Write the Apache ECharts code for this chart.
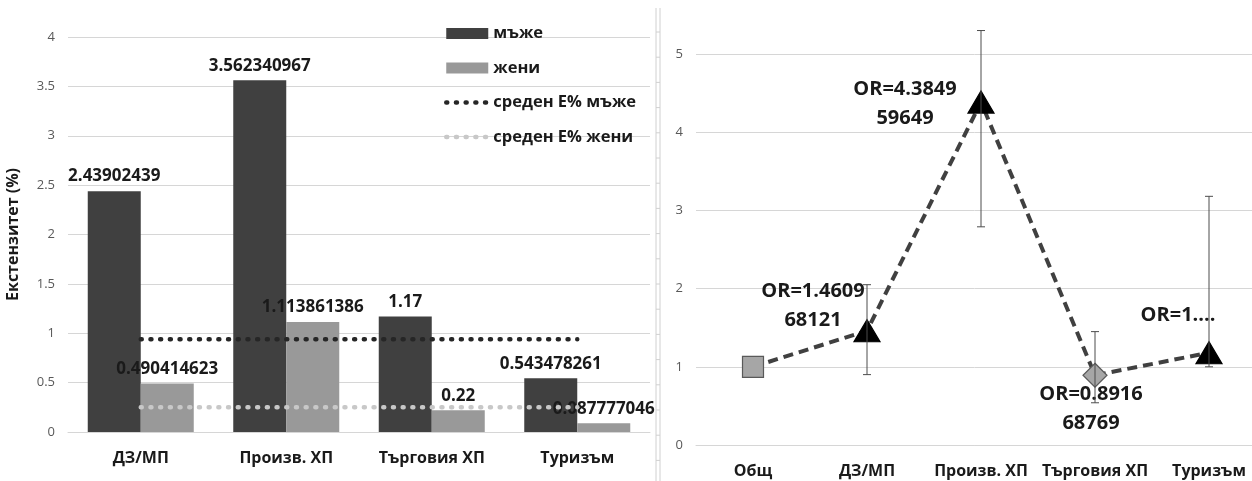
<!DOCTYPE html>
<html>
<head>
<meta charset="utf-8">
<script src="https://cdn.jsdelivr.net/npm/echarts@6/dist/echarts.min.js"></script>
<style>
  html, body { margin: 0; padding: 0; background: #ffffff; }
  #chart { width: 1252px; height: 481px; }
</style>
</head>
<body>
<div id="chart"></div>
<script>
// ---- Left chart data ----
const leftCategories = ['ДЗ/МП', 'Произв. ХП', 'Търговия ХП', 'Туризъм'];
const menValues = [2.43902439, 3.562340967, 1.17, 0.543478261];
const womenValues = [0.490414623, 1.113861386, 0.22, 0.087777046];
const menAverage = 0.94;
const womenAverage = 0.25;
const seriesNames = ['мъже', 'жени', 'среден Е% мъже', 'среден Е% жени'];
const leftAxisTitle = 'Екстензитет (%)';

// ---- Right chart data ----
const rightCategories = ['Общ', 'ДЗ/МП', 'Произв. ХП', 'Търговия ХП', 'Туризъм'];
const orValues = [1, 1.460968121, 4.384959649, 0.891668769, 1.18];
const ciLow = [null, 0.9, 2.79, 0.54, 1.0];
const ciHigh = [null, 2.05, 5.3, 1.45, 3.18];
const orLabels = ['', 'OR=1.4609\n68121', 'OR=4.3849\n59649', 'OR=0.8916\n68769', 'OR=1....'];

// ---- styling ----
const FONT = 'Open Sans';
const markerStyles = [
  { symbol: 'rect', symbolSize: 21, color: '#a6a6a6', border: '#595959' },
  { symbol: 'triangle', symbolSize: [26, 22], color: '#000000', border: '#000000' },
  { symbol: 'triangle', symbolSize: [26, 22], color: '#000000', border: '#000000' },
  { symbol: 'diamond', symbolSize: 24, color: '#a6a6a6', border: '#595959' },
  { symbol: 'triangle', symbolSize: [26, 22], color: '#000000', border: '#000000' }
];
const labelOffsets = [[0, 0], [-54, -25], [-76, 2], [-4, 34], [-31, -37]];

const chart = echarts.init(document.getElementById('chart'), null, { renderer: 'canvas' });

const lineData = orValues.map((v, i) => ({
  value: v,
  symbol: markerStyles[i].symbol,
  symbolSize: markerStyles[i].symbolSize,
  itemStyle: { color: markerStyles[i].color, borderColor: markerStyles[i].border, borderWidth: 1.2 },
  label: {
    show: orLabels[i] !== '',
    formatter: orLabels[i],
    position: 'inside',
    offset: labelOffsets[i]
  }
}));

const errData = [];
ciLow.forEach((lo, i) => { if (lo !== null) errData.push([i, lo, ciHigh[i]]); });

const axisLabelLeft = { color: '#595959', fontSize: 13, fontFamily: FONT };
const catLabel = { color: '#1a1a1a', fontSize: 16, fontWeight: 'bold', fontFamily: FONT, margin: 18, interval: 0, hideOverlap: false };
const gridColor = '#d6d6d6';

const ticks = [];
for (let y = 32; y < 481; y += 25.2) {
  ticks.push({ type: 'line', shape: { x1: 656, y1: y, x2: 660, y2: y }, style: { stroke: '#d0d0d0', lineWidth: 1 } });
}

const option = {
  animation: false,
  backgroundColor: '#ffffff',
  textStyle: { fontFamily: FONT },
  graphic: [
    { type: 'line', shape: { x1: 656, y1: 8, x2: 656, y2: 481 }, style: { stroke: '#d0d0d0', lineWidth: 1 } },
    { type: 'line', shape: { x1: 660, y1: 8, x2: 660, y2: 481 }, style: { stroke: '#d0d0d0', lineWidth: 1 } }
  ].concat(ticks),
  legend: {
    orient: 'vertical',
    left: 444,
    top: 25,
    padding: 0,
    itemGap: 17.5,
    itemWidth: 42,
    itemHeight: 11,
    textStyle: { fontSize: 16.5, fontWeight: 'bold', color: '#1a1a1a', fontFamily: FONT, lineHeight: 16 },
    data: [
      { name: seriesNames[0], icon: 'rect' },
      { name: seriesNames[1], icon: 'rect' },
      { name: seriesNames[2], itemStyle: { opacity: 0 }, lineStyle: { width: 4.5 } },
      { name: seriesNames[3], itemStyle: { opacity: 0 }, lineStyle: { width: 4.5 } }
    ]
  },
  grid: [
    { left: 68, top: 37, width: 582, height: 395, outerBoundsMode: 'none' },
    { left: 696, top: 54, width: 570, height: 391, outerBoundsMode: 'none' }
  ],
  xAxis: [
    {
      gridIndex: 0, type: 'category', data: leftCategories,
      axisLine: { lineStyle: { color: gridColor } },
      axisTick: { show: false },
      axisLabel: catLabel
    },
    {
      gridIndex: 1, type: 'category', data: rightCategories,
      axisLine: { lineStyle: { color: gridColor } },
      axisTick: { show: false },
      axisLabel: catLabel
    }
  ],
  yAxis: [
    {
      gridIndex: 0, type: 'value', min: 0, max: 4, interval: 0.5,
      name: leftAxisTitle, nameLocation: 'middle', nameGap: 47, nameRotate: 90,
      nameTextStyle: { fontSize: 16, fontWeight: 'bold', color: '#1a1a1a', fontFamily: FONT },
      axisLine: { show: false }, axisTick: { show: false },
      axisLabel: Object.assign({ margin: 13 }, axisLabelLeft),
      splitLine: { lineStyle: { color: gridColor } }
    },
    {
      gridIndex: 1, type: 'value', min: 0, max: 5, interval: 1,
      axisLine: { show: false }, axisTick: { show: false },
      axisLabel: Object.assign({ margin: 13 }, axisLabelLeft),
      splitLine: { lineStyle: { color: gridColor } }
    }
  ],
  series: [
    {
      name: seriesNames[0], type: 'bar', xAxisIndex: 0, yAxisIndex: 0,
      data: menValues, barWidth: 53, barGap: '0%',
      itemStyle: { color: '#404040' },
      label: { show: true, position: 'top', distance: 6, fontSize: 17, fontWeight: 'bold', color: '#1a1a1a', fontFamily: FONT }
    },
    {
      name: seriesNames[1], type: 'bar', xAxisIndex: 0, yAxisIndex: 0,
      data: womenValues, barWidth: 53, barGap: '0%',
      itemStyle: { color: '#999999' },
      label: { show: true, position: 'top', distance: 6, fontSize: 17, fontWeight: 'bold', color: '#1a1a1a', fontFamily: FONT }
    },
    {
      name: seriesNames[2], type: 'line', xAxisIndex: 0, yAxisIndex: 0,
      data: leftCategories.map(() => menAverage),
      symbol: 'none', z: 5,
      itemStyle: { color: '#262626' },
      lineStyle: { color: '#262626', width: 4.5, type: [1, 8.7], cap: 'round' }
    },
    {
      name: seriesNames[3], type: 'line', xAxisIndex: 0, yAxisIndex: 0,
      data: leftCategories.map(() => womenAverage),
      symbol: 'none', z: 5,
      itemStyle: { color: '#c8c8c8' },
      lineStyle: { color: '#c8c8c8', width: 4.5, type: [1, 8.7], cap: 'round' }
    },
    {
      name: 'OR', type: 'line', xAxisIndex: 1, yAxisIndex: 1,
      data: lineData,
      lineStyle: { color: '#404040', width: 4, type: [10, 6] },
      label: { fontSize: 20, fontWeight: 'bold', color: '#1a1a1a', fontFamily: FONT, lineHeight: 29, align: 'center', verticalAlign: 'middle' },
      z: 3
    },
    {
      name: 'CI', type: 'custom', xAxisIndex: 1, yAxisIndex: 1,
      data: errData, z: 6,
      renderItem: function (params, api) {
        const x = api.value(0);
        const pLo = api.coord([x, api.value(1)]);
        const pHi = api.coord([x, api.value(2)]);
        const w = 4;
        const st = { stroke: '#4d4d4d', lineWidth: 1 };
        return {
          type: 'group',
          children: [
            { type: 'line', shape: { x1: pLo[0], y1: pLo[1], x2: pHi[0], y2: pHi[1] }, style: st },
            { type: 'line', shape: { x1: pHi[0] - w, y1: pHi[1], x2: pHi[0] + w, y2: pHi[1] }, style: st },
            { type: 'line', shape: { x1: pLo[0] - w, y1: pLo[1], x2: pLo[0] + w, y2: pLo[1] }, style: st }
          ]
        };
      }
    }
  ]
};

chart.setOption(option);
</script>
</body>
</html>
